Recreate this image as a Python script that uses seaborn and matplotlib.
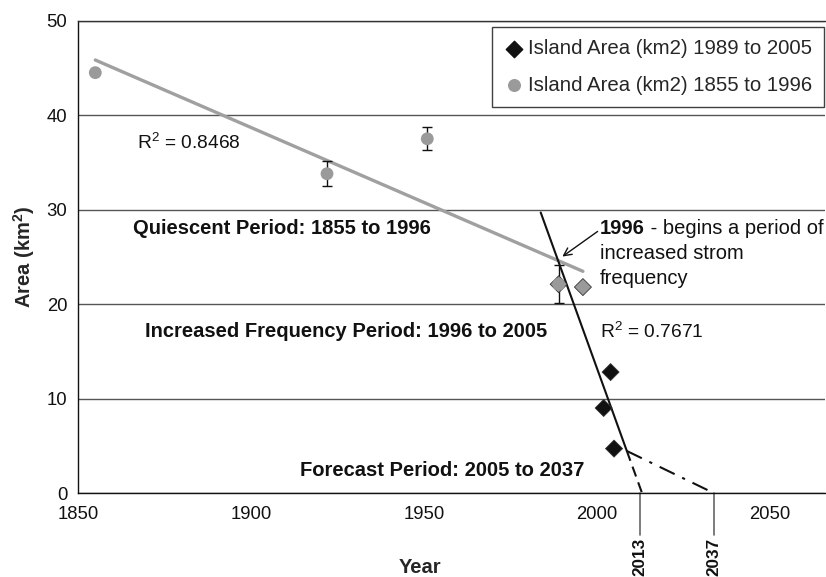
import numpy as np
import matplotlib
matplotlib.use("Agg")
import matplotlib.pyplot as plt
import seaborn as sns

# island area, 1855 to 1996 survey (grey circles)
years_old = [1855, 1922, 1951, 1989, 1996]
area_old = [44.5, 33.8, 37.5, 22.1, 21.8]
err_old = [0.0, 1.3, 1.2, 2.0, 0.0]

# island area, 1989 to 2005 (diamonds)
years_new = [1989, 1996, 2002, 2004, 2005]
area_new = [22.1, 21.8, 9.0, 12.8, 4.7]
new_colors = ['#9a9a9a', '#9a9a9a', '#111111', '#111111', '#111111']

# forecast markers drawn under the x axis
marker_pos = [2012.5, 2033.8]
marker_labels = ['2013', '2037']
fit_range = [1983.8, 2008.7]

sns.set_style("white")
plt.rcParams['font.family'] = ['Liberation Sans', 'DejaVu Sans']
plt.rcParams['mathtext.fontset'] = 'custom'
plt.rcParams['mathtext.rm'] = 'Liberation Sans'
plt.rcParams['mathtext.bf'] = 'Liberation Sans:bold'

fig = plt.figure(figsize=(8.26, 5.77), dpi=100)
ax = fig.add_axes([78/826, 1 - 493/577, 747/826, 472.3/577])

# trend lines
p_old = np.polyfit(years_old, area_old, 1)
p_new = np.polyfit(years_new, area_new, 1)
xo = np.array([years_old[0], years_old[-1]])
sns.lineplot(x=xo, y=np.polyval(p_old, xo), color='#a0a0a0', lw=2.4, ax=ax, zorder=2)
xn = np.array(fit_range)
sns.lineplot(x=xn, y=np.polyval(p_new, xn), color='#111111', lw=1.5, ax=ax, zorder=2)

# forecast continuation
root = -p_new[1] / p_new[0]
y_end = np.polyval(p_new, fit_range[1])
ax.plot([fit_range[1], root], [y_end, 0], color='#111111', lw=1.5, ls=(0, (5, 3)), zorder=2)
ax.plot([fit_range[1], marker_pos[1]], [y_end, 0], color='#111111', lw=1.5,
        ls=(0, (8, 4, 1.5, 4)), zorder=2)

# points
ax.errorbar(years_old, area_old, yerr=err_old, fmt='none', ecolor='#111111',
            elinewidth=1, capsize=3.5, capthick=1, zorder=3)
sns.scatterplot(x=years_new, y=area_new, marker='D', s=75, c=new_colors,
                edgecolor='#333333', linewidth=0.6, ax=ax, zorder=4)
sns.scatterplot(x=years_old[:-1], y=area_old[:-1], marker='o', s=85, color='#9a9a9a',
                edgecolor='none', ax=ax, zorder=5)

# legend
h1 = ax.scatter([], [], marker='D', s=70, color='#111111', label='Island Area (km2) 1989 to 2005')
h2 = ax.scatter([], [], marker='o', s=70, color='#9a9a9a', label='Island Area (km2) 1855 to 1996')
leg = ax.legend(handles=[h1, h2], loc='upper right', bbox_to_anchor=(824/826, 1 - 27/577),
                bbox_transform=fig.transFigure, fontsize=14.7, frameon=True, fancybox=False,
                edgecolor='#111111', borderpad=0.6, handlelength=1.0, handletextpad=0.15,
                labelspacing=0.85, borderaxespad=0)
leg.get_frame().set_linewidth(1)

# axes styling
ax.set_xlim(1850, 2066)
ax.set_ylim(0, 50)
ax.set_xticks([1850, 1900, 1950, 2000, 2050])
ax.set_xticks(np.arange(1850, 2066, 10), minor=True)
ax.set_yticks([0, 10, 20, 30, 40, 50])
ax.set_yticks([5, 15, 25, 35, 45], minor=True)
ax.yaxis.grid(True, color='#555555', lw=1)
ax.set_axisbelow(True)
for s in ['left', 'bottom']:
    ax.spines[s].set_color('#111111')
    ax.spines[s].set_linewidth(1)
ax.spines['right'].set_visible(False)
ax.spines['top'].set_color('#333333')
ax.spines['top'].set_linewidth(1)
ax.tick_params(axis='x', which='major', direction='inout', length=8.6, width=1,
               labelsize=13.3, pad=5, colors='#111111')
ax.tick_params(axis='x', which='minor', direction='out', length=3.6, width=1, colors='#111111')
ax.tick_params(axis='y', which='major', direction='out', length=3.6, width=1,
               labelsize=13.3, pad=4, colors='#111111')
ax.tick_params(axis='y', which='minor', direction='out', length=3.6, width=1, colors='#111111')

ax.set_xlabel('Year', fontsize=14.5, fontweight='bold')
ax.set_ylabel('Area (km$^\\mathbf{2}$)', fontsize=14.5, fontweight='bold')
ax.xaxis.set_label_coords(0.458, -0.138)
ax.yaxis.set_label_coords(-0.055, 0.50)

# annotations
ax.text(1867.1, 36.4, 'R$^2$ = 0.8468', fontsize=13.8, va='baseline', color='#111111')
ax.text(2000.9, 16.45, 'R$^2$ = 0.7671', fontsize=13.8, va='baseline', color='#111111')
ax.text(1865.9, 27.4, 'Quiescent Period: 1855 to 1996', fontsize=14.5, fontweight='bold',
        va='baseline', color='#111111')
ax.text(1869.4, 16.5, 'Increased Frequency Period: 1996 to 2005', fontsize=14.5,
        fontweight='bold', va='baseline', color='#111111')
ax.text(1914.3, 1.8, 'Forecast Period: 2005 to 2037', fontsize=14.5, fontweight='bold',
        va='baseline', color='#111111')

t1 = ax.text(2000.9, 27.4, '1996', fontsize=14.5, fontweight='bold', va='baseline',
             color='#111111')
ax.annotate(' - begins a period of', xy=(1, 0), xycoords=t1, va='bottom', ha='left',
            fontsize=14.5, color='#111111', annotation_clip=False)
ax.text(2000.9, 24.75, 'increased strom', fontsize=14.5, va='baseline', color='#111111')
ax.text(2000.9, 22.1, 'frequency', fontsize=14.5, va='baseline', color='#111111')
ax.annotate('', xy=(1989.4, 24.86), xytext=(2000.9, 27.86),
            arrowprops=dict(arrowstyle='->', color='#111111', lw=1, mutation_scale=14))

for xp, lab in zip(marker_pos, marker_labels):
    ax.plot([xp, xp], [0, -4.45], color='#666666', lw=1.2, clip_on=False)
    ax.text(xp, -4.75, lab, rotation=90, ha='center', va='top', fontsize=12.3,
            fontweight='bold', color='#111111', clip_on=False)

fig.savefig('out.png', dpi=100)
